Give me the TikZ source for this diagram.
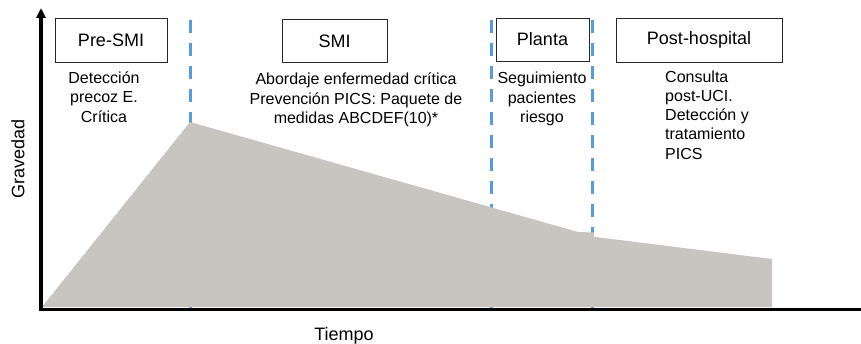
\documentclass[tikz,border=0pt]{standalone}
\usepackage{fontspec}
\setmainfont{Liberation Sans}
\usetikzlibrary{arrows.meta}
\definecolor{areagray}{RGB}{200,197,192}
\definecolor{dashblue}{RGB}{91,155,213}
\tikzset{
  phasebox/.style={draw=black!85, line width=0.9pt, minimum width=#1, minimum height=43pt, inner sep=0pt, font=\fontsize{18}{21}\selectfont},
  phasebox/.default=100pt,
  bodytext/.style={align=center, inner sep=0pt, font=\fontsize{16}{19.3}\selectfont},
  bodyleft/.style={align=left, inner sep=0pt, font=\fontsize{16}{19.2}\selectfont},
  divider/.style={dashblue, line width=3pt, dash pattern=on 13pt off 10pt},
  axisline/.style={black, line width=3.5pt},
  axislabel/.style={inner sep=0pt, font=\fontsize{18}{21}\selectfont}
}
\begin{document}
\begin{tikzpicture}[x=1pt,y=-1pt]
\useasboundingbox (0,0) rectangle (861,344);
% dividers
\coordinate (d1t) at (190,20); \coordinate (d1b) at (190,308);
\coordinate (d2t) at (491,20); \coordinate (d2b) at (491,308);
\coordinate (d3t) at (592,20); \coordinate (d3b) at (592,308);
\draw[divider] (d1t) -- (d1b);
\draw[divider] (d2t) -- (d2b);
\draw[divider] (d3t) -- (d3b);
% area
\fill[areagray] (42,307) -- (190,122) -- (490,207) -- (578,232) -- (594,232.5) -- (594,236.8) -- (772,259) -- (772,307) -- cycle;
% axes
\coordinate (origin) at (41,311);
\coordinate (ytop) at (41,8);
\coordinate (xend) at (861,309.5);
\draw[axisline, -{Triangle[length=10pt,width=9pt]}] (origin) -- (ytop);
\draw[axisline] (39.5,309.5) -- (xend);
% boxes
\node[phasebox=112pt, minimum height=44pt] (pre) at (111,40) {Pre-SMI};
\node[phasebox=105pt, minimum height=43pt] (smi) at (334.5,41) {SMI};
\node[phasebox=93pt, minimum height=43pt] (planta) at (542.5,39.5) {Planta};
\node[phasebox=166pt, minimum height=44pt] (post) at (699,40) {Post-hospital};
% texts
\node[bodytext] (pretxt) at (104,97) {Detección\\precoz E.\\Crítica};
\node[bodytext] (smitxt) at (356,100) {Abordaje enfermedad crítica\\Prevención PICS: Paquete de\\medidas ABCDEF(10)*};
\node[bodytext] (plantatxt) at (542,99) {Seguimiento\\pacientes\\riesgo};
\node[bodyleft, anchor=west] (posttxt) at (665,115) {Consulta\\post-UCI.\\Detección y\\tratamiento\\PICS};
% axis labels
\node[axislabel] (tiempo) at (344,336) {Tiempo};
\node[axislabel, rotate=90] (gravedad) at (18,159) {Gravedad};
\end{tikzpicture}
\end{document}
